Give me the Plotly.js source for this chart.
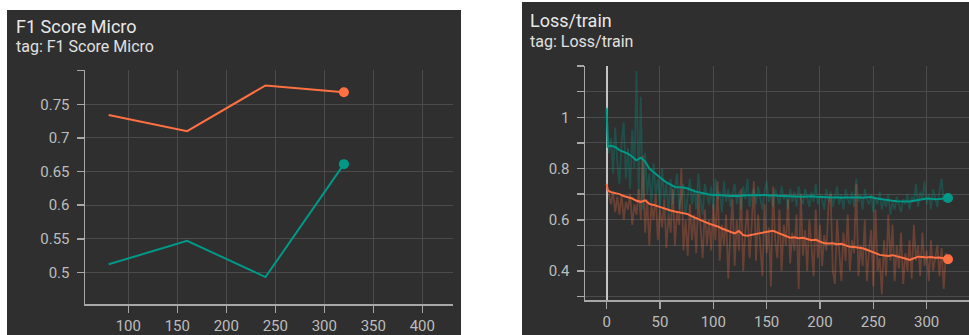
<!DOCTYPE html>
<html>
<head>
<meta charset="utf-8">
<script src="https://cdn.plot.ly/plotly-3.0.1.min.js"></script>
<style>
html,body{margin:0;padding:0;background:#fff;}
#chart{width:969px;height:335px;}
</style>
</head>
<body>
<div id="chart"></div>
<script>
// ---- F1 Score Micro (left panel) ----
const f1Steps = [80, 160, 240, 320];
const f1Orange = [0.734, 0.710, 0.778, 0.768];
const f1Teal = [0.512, 0.547, 0.493, 0.661];
const f1XTicks = [100, 150, 200, 250, 300, 350, 400];
const f1YTicks = [0.5, 0.55, 0.6, 0.65, 0.7, 0.75, 0.8];
const f1YText = ['0.5', '0.55', '0.6', '0.65', '0.7', '0.75', ''];

// ---- Loss/train (right panel) ----
// raw values every 2 steps, 0..320
const rawStepInterval = 2;
const lossOrangeRaw = [
 0.74,0.70,0.66,0.71,0.63,0.69,0.62,0.70,0.60,0.67,
 0.64,0.70,0.58,0.66,0.62,0.72,0.60,0.85,0.55,0.68,
 0.50,0.66,0.60,0.70,0.52,0.64,0.57,0.68,0.49,0.62,
 0.55,0.72,0.50,0.63,0.58,0.80,0.48,0.60,0.46,0.66,
 0.52,0.62,0.47,0.70,0.55,0.45,0.64,0.50,0.60,0.48,
 0.66,0.52,0.75,0.44,0.58,0.50,0.62,0.37,0.55,0.68,
 0.42,0.60,0.48,0.72,0.40,0.56,0.64,0.45,0.58,0.75,
 0.44,0.62,0.50,0.38,0.66,0.47,0.57,0.34,0.73,0.52,
 0.45,0.64,0.40,0.58,0.50,0.68,0.43,0.55,0.48,0.62,
 0.33,0.70,0.46,0.56,0.40,0.60,0.50,0.38,0.64,0.45,
 0.58,0.42,0.54,0.48,0.66,0.70,0.40,0.35,0.60,0.46,
 0.36,0.55,0.44,0.62,0.40,0.52,0.47,0.74,0.38,0.50,
 0.42,0.60,0.36,0.48,0.56,0.34,0.64,0.40,0.45,0.31,
 0.52,0.38,0.62,0.44,0.58,0.36,0.50,0.41,0.55,0.35,
 0.47,0.40,0.52,0.37,0.58,0.44,0.50,0.38,0.55,0.42,
 0.48,0.36,0.52,0.40,0.46,0.50,0.38,0.49,0.33,0.47,
 0.43
];
const lossTealRaw = [
 1.04,0.86,0.92,0.78,0.96,0.82,0.74,0.90,0.98,0.76,
 0.88,0.72,0.95,0.80,1.18,0.70,1.08,0.64,0.86,0.70,
 0.78,0.66,0.82,0.70,0.76,0.64,0.80,0.68,0.74,0.62,
 0.76,0.66,0.72,0.78,0.64,0.70,0.74,0.62,0.68,0.76,
 0.66,0.72,0.64,0.78,0.68,0.62,0.74,0.70,0.66,0.73,
 0.64,0.76,0.68,0.71,0.63,0.75,0.67,0.72,0.65,0.70,
 0.74,0.66,0.71,0.64,0.73,0.68,0.76,0.65,0.70,0.72,
 0.66,0.73,0.68,0.64,0.71,0.75,0.67,0.70,0.65,0.72,
 0.69,0.66,0.73,0.68,0.70,0.64,0.72,0.67,0.71,0.65,
 0.73,0.68,0.66,0.72,0.69,0.65,0.71,0.67,0.74,0.66,
 0.70,0.68,0.64,0.72,0.67,0.71,0.65,0.69,0.73,0.66,
 0.70,0.64,0.72,0.68,0.66,0.71,0.65,0.76,0.67,0.70,
 0.64,0.72,0.68,0.66,0.70,0.63,0.69,0.66,0.71,0.64,
 0.68,0.65,0.70,0.62,0.67,0.64,0.69,0.66,0.63,0.68,
 0.66,0.70,0.64,0.69,0.67,0.74,0.65,0.71,0.68,0.75,
 0.66,0.70,0.64,0.72,0.68,0.65,0.71,0.76,0.67,0.70,
 0.68
];
// smoothed values at steps 0, 1, then every 4 steps 4..320
const smoothStepsHead = [0, 1];
const smoothStepInterval = 4;
const lossOrangeSmooth = [
 0.740,0.715,
 0.708,0.704,0.700,0.693,0.688,0.683,0.674,0.670,0.676,
 0.662,0.658,0.652,0.645,0.641,0.636,0.632,0.628,0.627,0.622,
 0.613,0.607,0.598,0.592,0.585,0.580,0.574,0.566,0.560,0.553,
 0.547,0.556,0.540,0.538,0.542,0.546,0.548,0.551,0.553,0.557,
 0.550,0.544,0.538,0.530,0.532,0.528,0.530,0.524,0.520,0.522,
 0.514,0.508,0.507,0.508,0.505,0.506,0.500,0.495,0.494,0.491,
 0.489,0.483,0.478,0.470,0.463,0.461,0.459,0.462,0.458,0.456,
 0.449,0.443,0.451,0.456,0.455,0.453,0.455,0.452,0.453,0.450,
 0.446
];
const lossTealSmooth = [
 1.035,0.885,
 0.889,0.884,0.872,0.866,0.858,0.846,0.832,0.842,0.828,
 0.800,0.785,0.770,0.758,0.746,0.736,0.728,0.727,0.726,0.722,
 0.714,0.709,0.706,0.702,0.699,0.697,0.698,0.696,0.694,0.693,
 0.694,0.693,0.695,0.696,0.698,0.697,0.696,0.697,0.695,0.696,
 0.694,0.693,0.692,0.693,0.691,0.692,0.690,0.691,0.692,0.690,
 0.689,0.688,0.689,0.687,0.688,0.686,0.687,0.686,0.687,0.688,
 0.686,0.688,0.689,0.684,0.681,0.678,0.676,0.674,0.672,0.671,
 0.670,0.671,0.674,0.678,0.681,0.683,0.682,0.680,0.681,0.684,
 0.685
];
const lossXTicks = [0, 50, 100, 150, 200, 250, 300];
const lossYTicks = [0.3, 0.4, 0.5, 0.6, 0.7, 0.8, 0.9, 1.0, 1.1, 1.2];
const lossYText = ['', '0.4', '', '0.6', '', '0.8', '', '1', '', ''];

const ORANGE = '#ff7043';
const TEAL = '#009988';

const rawSteps = lossOrangeRaw.map((_, i) => i * rawStepInterval);
const smoothSteps = smoothStepsHead.concat(
  lossOrangeSmooth.slice(smoothStepsHead.length).map((_, i) => (i + 1) * smoothStepInterval));

const lastOf = a => a[a.length - 1];

const traces = [
  {x: f1Steps, y: f1Orange, xaxis: 'x', yaxis: 'y', mode: 'lines', line: {color: ORANGE, width: 2}, hoverinfo: 'skip'},
  {x: f1Steps, y: f1Teal, xaxis: 'x', yaxis: 'y', mode: 'lines', line: {color: TEAL, width: 2}, hoverinfo: 'skip'},
  {x: [lastOf(f1Steps)], y: [lastOf(f1Orange)], xaxis: 'x', yaxis: 'y', mode: 'markers', marker: {color: ORANGE, size: 10}},
  {x: [lastOf(f1Steps)], y: [lastOf(f1Teal)], xaxis: 'x', yaxis: 'y', mode: 'markers', marker: {color: TEAL, size: 10}},

  {x: rawSteps, y: lossTealRaw, xaxis: 'x2', yaxis: 'y2', mode: 'lines', line: {color: TEAL, width: 1.8}, opacity: 0.3},
  {x: rawSteps, y: lossOrangeRaw, xaxis: 'x2', yaxis: 'y2', mode: 'lines', line: {color: ORANGE, width: 1.8}, opacity: 0.28},
  {x: smoothSteps, y: lossTealSmooth, xaxis: 'x2', yaxis: 'y2', mode: 'lines', line: {color: TEAL, width: 2}},
  {x: smoothSteps, y: lossOrangeSmooth, xaxis: 'x2', yaxis: 'y2', mode: 'lines', line: {color: ORANGE, width: 2}},
  {x: [lastOf(smoothSteps)], y: [lastOf(lossTealSmooth)], xaxis: 'x2', yaxis: 'y2', mode: 'markers', marker: {color: TEAL, size: 10}},
  {x: [lastOf(smoothSteps)], y: [lastOf(lossOrangeSmooth)], xaxis: 'x2', yaxis: 'y2', mode: 'markers', marker: {color: ORANGE, size: 10}}
];

const W = 969, H = 335;
const px = v => v / W;
const py = v => 1 - v / H;
const GRID = '#4b4b4b';
const AXIS = '#a8a8a8';
const TICKFONT = {family: 'Roboto, sans-serif', size: 15, color: '#bdbdbd'};

const common = {
  showgrid: true, gridcolor: GRID, gridwidth: 1,
  showline: true, linecolor: AXIS, linewidth: 1.5,
  ticks: 'outside', ticklen: 7, tickcolor: AXIS, tickwidth: 1.5,
  tickfont: TICKFONT, zeroline: false, fixedrange: true
};

const layout = {
  width: W, height: H,
  margin: {l: 0, r: 0, t: 0, b: 0},
  paper_bgcolor: '#ffffff',
  plot_bgcolor: '#2f2f2f',
  showlegend: false,
  font: {family: 'Roboto, sans-serif'},
  xaxis: Object.assign({}, common, {
    domain: [px(85), px(453)], range: [55.8, 431.3], anchor: 'y',
    tickmode: 'array', tickvals: f1XTicks, ticklabelstandoff: 0
  }),
  yaxis: Object.assign({}, common, {
    domain: [py(304), py(70)], range: [0.453, 0.801], anchor: 'x',
    tickmode: 'array', tickvals: f1YTicks, ticktext: f1YText, ticklabelstandoff: 4
  }),
  xaxis2: Object.assign({}, common, {
    domain: [px(585), 1], range: [-20.3, 339.7], anchor: 'y2',
    tickmode: 'array', tickvals: lossXTicks, ticklabelstandoff: 0,
    zeroline: true, zerolinecolor: '#c4c4c4', zerolinewidth: 2
  }),
  yaxis2: Object.assign({}, common, {
    domain: [py(300), py(66)], range: [0.287, 1.2], anchor: 'x2',
    tickmode: 'array', tickvals: lossYTicks, ticktext: lossYText, ticklabelstandoff: 4
  }),
  shapes: [
    {type: 'rect', xref: 'paper', yref: 'paper', x0: px(7), x1: px(461), y0: 0, y1: py(10),
     fillcolor: '#2f2f2f', line: {width: 0}, layer: 'below'},
    {type: 'rect', xref: 'paper', yref: 'paper', x0: px(522), x1: 1, y0: 0, y1: py(2),
     fillcolor: '#2f2f2f', line: {width: 0}, layer: 'below'}
  ],
  annotations: [
    {text: 'F1 Score Micro', xref: 'paper', yref: 'paper', x: px(14), y: py(26), xanchor: 'left', yanchor: 'middle',
     showarrow: false, font: {family: 'Roboto, sans-serif', size: 18, color: '#e8e8e8'}},
    {text: 'tag: F1 Score Micro', xref: 'paper', yref: 'paper', x: px(14), y: py(46.5), xanchor: 'left', yanchor: 'middle',
     showarrow: false, font: {family: 'Roboto, sans-serif', size: 16, color: '#e0e0e0'}},
    {text: 'Loss/train', xref: 'paper', yref: 'paper', x: px(528), y: py(21), xanchor: 'left', yanchor: 'middle',
     showarrow: false, font: {family: 'Roboto, sans-serif', size: 18, color: '#e8e8e8'}},
    {text: 'tag: Loss/train', xref: 'paper', yref: 'paper', x: px(528), y: py(41.5), xanchor: 'left', yanchor: 'middle',
     showarrow: false, font: {family: 'Roboto, sans-serif', size: 16, color: '#e0e0e0'}}
  ]
};

Plotly.newPlot('chart', traces, layout, {staticPlot: true, displayModeBar: false});
</script>
</body>
</html>
